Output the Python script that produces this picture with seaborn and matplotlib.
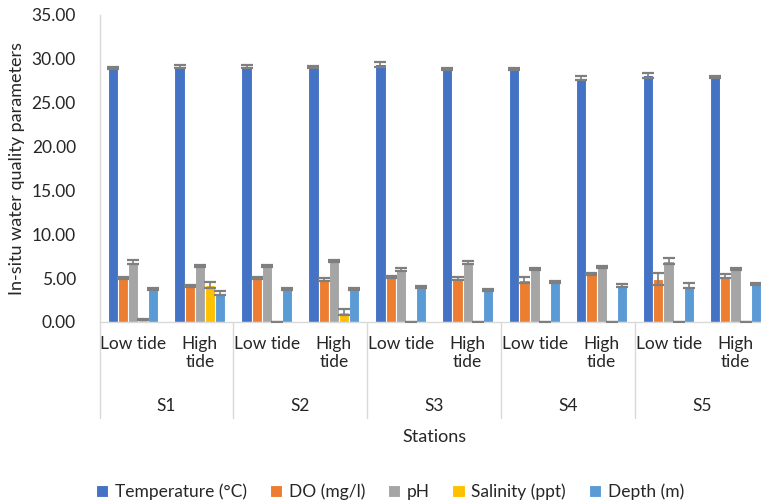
import matplotlib
matplotlib.use("Agg")
import matplotlib.pyplot as plt
import matplotlib.transforms as mtransforms
import seaborn as sns
import pandas as pd

# values
stations = ["S1", "S2", "S3", "S4", "S5"]
tides = ["Low tide", "High tide"]
params = ["Temperature (°C)", "DO (mg/l)", "pH", "Salinity (ppt)", "Depth (m)"]
colors = ["#4472C4", "#ED7D31", "#A5A5A5", "#FFC000", "#5B9BD5"]

# order: S1 low, S1 high, S2 low, ... S5 high
temperature = [28.88, 29.06, 29.06, 29.02, 29.33, 28.80, 28.83, 27.77, 28.08, 27.89]
do_mg = [5.04, 4.10, 5.04, 4.86, 5.09, 4.93, 4.78, 5.43, 4.86, 5.24]
ph = [6.86, 6.37, 6.37, 6.94, 6.00, 6.79, 6.00, 6.29, 6.91, 6.07]
salinity = [0.25, 4.21, 0.03, 1.10, 0.03, 0.03, 0.02, 0.02, 0.03, 0.03]
depth = [3.72, 3.27, 3.79, 3.76, 4.02, 3.64, 4.52, 4.13, 4.13, 4.29]

temperature_err = [0.10, 0.15, 0.15, 0.15, 0.30, 0.15, 0.10, 0.20, 0.30, 0.10]
do_err = [0.10, 0.10, 0.10, 0.20, 0.10, 0.20, 0.35, 0.10, 0.70, 0.20]
ph_err = [0.25, 0.10, 0.10, 0.15, 0.15, 0.20, 0.10, 0.10, 0.35, 0.10]
salinity_err = [0.05, 0.30, 0.02, 0.35, 0.02, 0.02, 0.02, 0.02, 0.02, 0.02]
depth_err = [0.10, 0.25, 0.10, 0.10, 0.10, 0.15, 0.10, 0.20, 0.30, 0.10]

values = [temperature, do_mg, ph, salinity, depth]
errors = [temperature_err, do_err, ph_err, salinity_err, depth_err]

sns.set_theme(style="white")
plt.rcParams["font.family"] = ["Lato", "DejaVu Sans"]
text_color = "#262626"
line_color = "#D9D9D9"

keys = [f"{s} {t}" for s in stations for t in tides]
rows = []
for p, vals in zip(params, values):
    for k, v in zip(keys, vals):
        rows.append({"key": k, "param": p, "value": v})
df = pd.DataFrame(rows)

fig = plt.figure(figsize=(7.61, 5.03), dpi=100)
ax = fig.add_axes([99.5 / 761, 1 - 322 / 503, 669.5 / 761, 307.5 / 503])

sns.barplot(data=df, x="key", y="value", hue="param", order=keys, hue_order=params,
            palette=dict(zip(params, colors)), saturation=1, width=0.76, errorbar=None,
            edgecolor="white", linewidth=0.8, ax=ax, legend=True)

# error bars on top of each bar
for container, errs in zip(ax.containers, errors):
    for bar, e in zip(container, errs):
        ax.errorbar(bar.get_x() + bar.get_width() / 2, bar.get_height(), yerr=e,
                    fmt="none", ecolor="#7F7F7F", elinewidth=1.2, capsize=4,
                    capthick=1.6, zorder=3)

ax.set_xlim(-0.5, len(keys) - 0.5)
ax.set_ylim(0, 35)
ax.set_yticks(range(0, 36, 5))
ax.set_yticklabels([f"{v:.2f}" for v in range(0, 36, 5)], fontsize=12.5, color=text_color)
ax.tick_params(axis="y", length=0, pad=17)
ax.set_xticks(range(len(keys)))
ax.set_xticklabels(["Low tide", "High\ntide"] * len(stations), fontsize=12.5,
                   color=text_color, linespacing=1.15)
ax.tick_params(axis="x", length=0, pad=10)

for side in ["top", "right"]:
    ax.spines[side].set_visible(False)
for side in ["left", "bottom"]:
    ax.spines[side].set_color(line_color)
    ax.spines[side].set_linewidth(1)

# station separators and labels
trans = mtransforms.blended_transform_factory(ax.transData, ax.transAxes)
for i in range(len(stations) + 1):
    ax.plot([i * 2 - 0.5, i * 2 - 0.5], [0, -0.312], color=line_color, lw=1,
            transform=trans, clip_on=False)
for i, s in enumerate(stations):
    ax.text(i * 2 + 0.5, -0.273, s, transform=trans, ha="center", va="center",
            fontsize=12.5, color=text_color)

ax.set_xlabel("Stations", fontsize=13, color=text_color)
ax.xaxis.set_label_coords(0.5, -0.374)
ax.xaxis.label.set_va("center")
ax.set_ylabel("In-situ water quality parameters", fontsize=13, color=text_color)
ax.yaxis.set_label_coords(-0.123, 0.5)
ax.yaxis.label.set_va("center")

handles, labels = ax.get_legend_handles_labels()
ax.get_legend().remove()
fig.legend(handles, labels, loc="center", bbox_to_anchor=(390 / 761, 1 - 492 / 503),
           ncol=5, frameon=False, fontsize=12.5, handlelength=0.7, handleheight=0.7,
           handletextpad=0.4, columnspacing=1.3, labelcolor=text_color)

fig.savefig("out.png", dpi=100)
